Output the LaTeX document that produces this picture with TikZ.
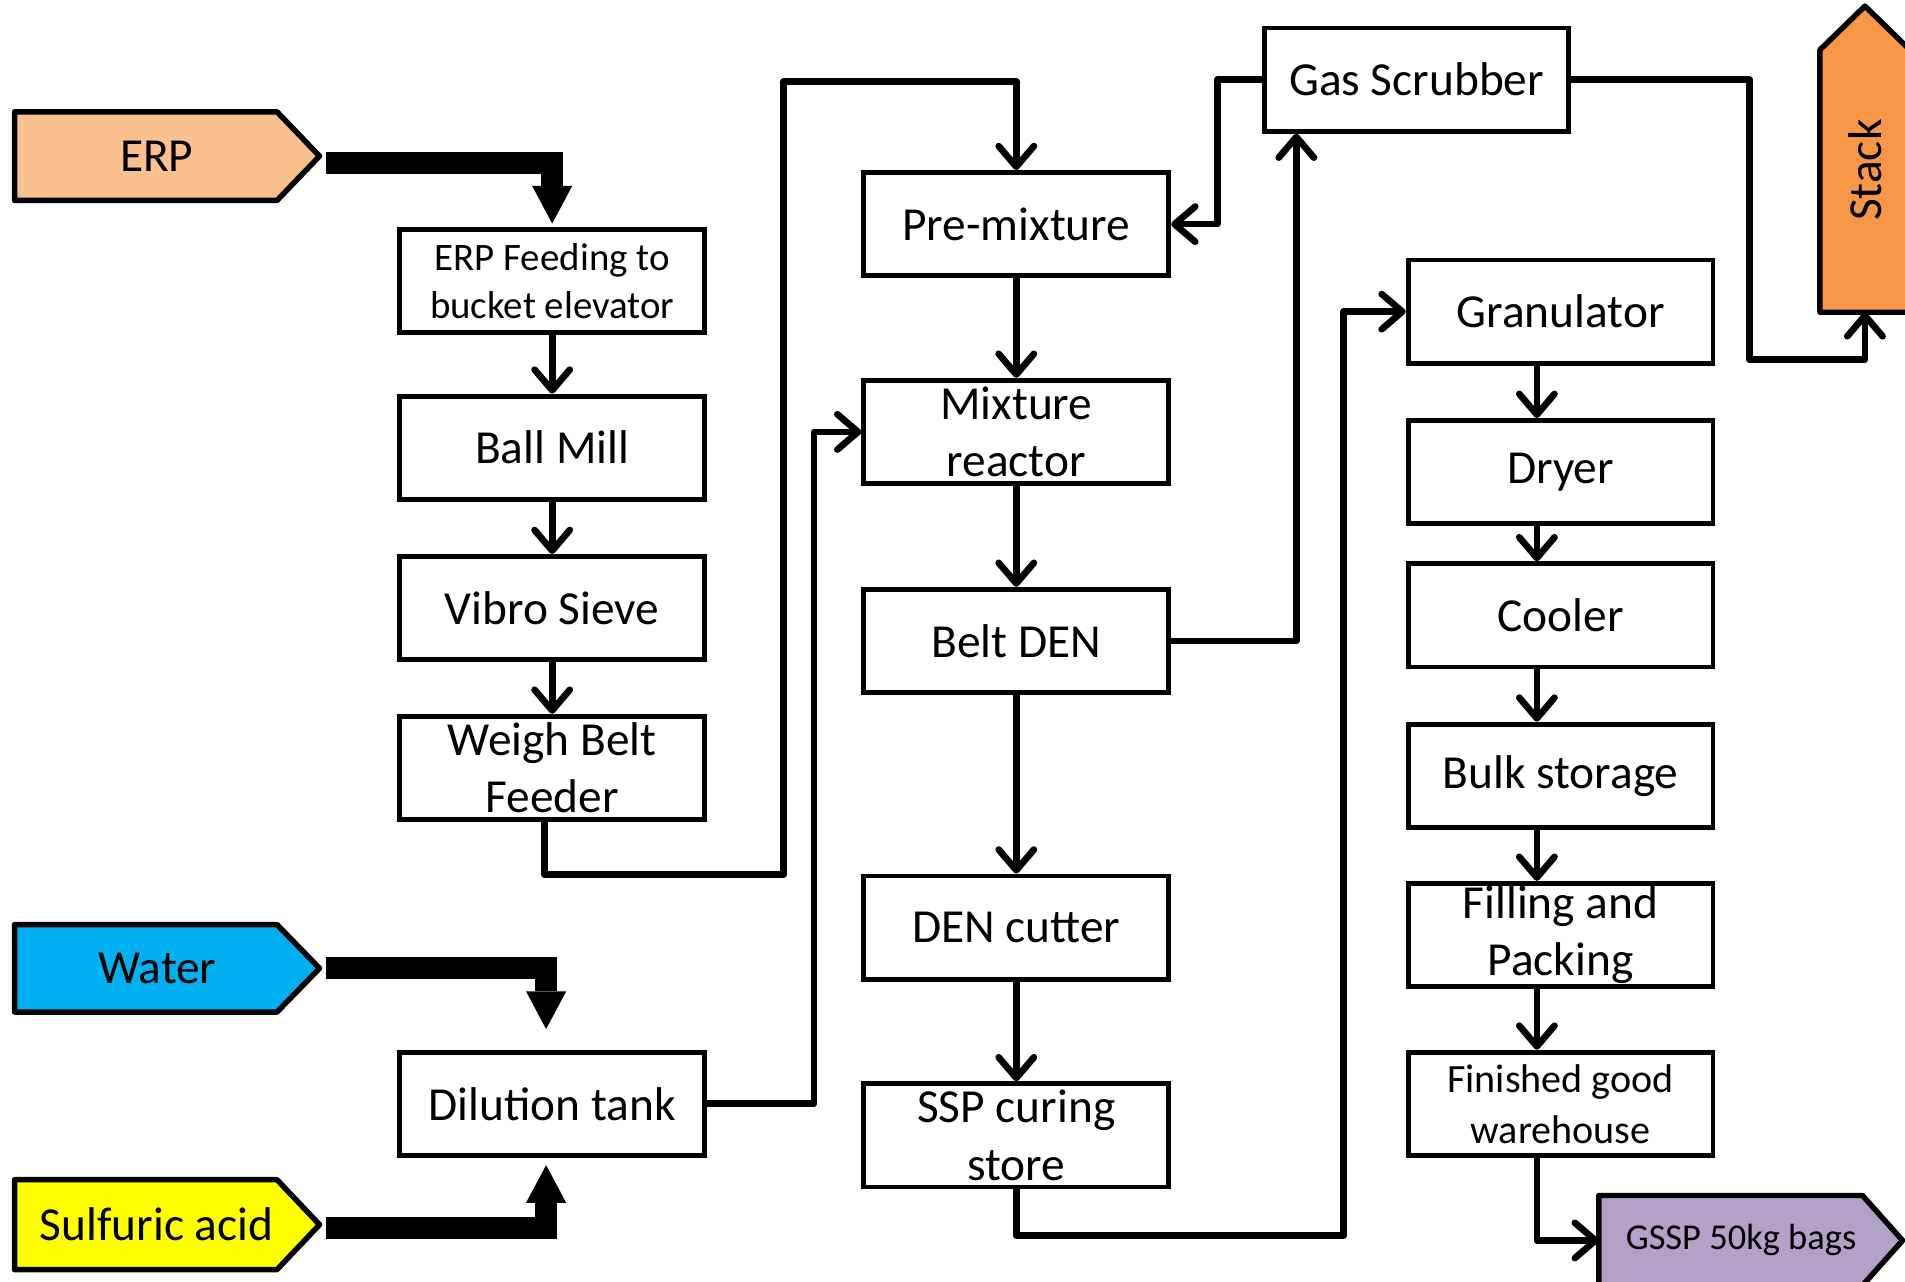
\documentclass[tikz,border=0pt]{standalone}
\usepackage{fontspec}
\setmainfont{Carlito}
\usetikzlibrary{arrows.meta}
\definecolor{erpc}{HTML}{FAC090}
\definecolor{waterc}{HTML}{00B0F0}
\definecolor{sulfc}{HTML}{FFFF00}
\definecolor{stackc}{HTML}{F79646}
\definecolor{gsspc}{HTML}{B3A2C7}
\begin{document}
\begin{tikzpicture}[x=1pt,y=-1pt,
  procbox/.style={draw, line width=4pt, fill=white, minimum width=251pt, minimum height=85pt, inner sep=0pt, align=center, font=\fontsize{39}{47}\selectfont},
  smallbox/.style={procbox, font=\fontsize{32}{39}\selectfont},
  finbox/.style={procbox, font=\fontsize{33}{42}\selectfont},
  conn/.style={line width=5.5pt, line join=round, -{Straight Barb[length=17pt,width=29pt,round]}},
  thickarr/.style={line width=18pt, line join=miter, -{Triangle[length=31pt,width=33pt,line width=0pt]}},
  inshape/.style={draw, line width=4.5pt, line join=round},
  lbl/.style={font=\fontsize{39}{47}\selectfont, inner sep=0pt}
]
\useasboundingbox (0,0) rectangle (1568,1055);
\clip (0,0) rectangle (1568,1055);

% input shapes
\filldraw[inshape, fill=erpc] (12,92) -- (228,92) -- (263,128.5) -- (228,165) -- (12,165) -- cycle;
\filldraw[inshape, fill=waterc] (12,761) -- (228,761) -- (263,797) -- (228,833) -- (12,833) -- cycle;
\filldraw[inshape, fill=sulfc] (12,971) -- (228,971) -- (263,1008) -- (228,1045) -- (12,1045) -- cycle;
\filldraw[inshape, fill=stackc] (1498,257) -- (1498,41) -- (1535,5) -- (1572,41) -- (1572,257) -- cycle;
\filldraw[inshape, fill=gsspc] (1316,984) -- (1533,984) -- (1566,1021) -- (1533,1058) -- (1316,1058) -- cycle;

\coordinate (erptip) at (263,128.5);
\coordinate (watertip) at (263,797);
\coordinate (sulftip) at (263,1008);
\coordinate (stackb) at (1535,257);
\coordinate (gsspw) at (1316,1021);

\node[lbl] (erp) at (129,128.5) {ERP};
\node[lbl] (water) at (129.5,797) {Water};
\node[lbl] (sulf) at (129,1008) {Sulfuric acid};
\node[lbl, rotate=90] (stack) at (1535,140) {Stack};
\node[font=\fontsize{30}{36}\selectfont, inner sep=0pt] (gssp) at (1433,1021) {GSSP 50kg bags};

% left column
\node[smallbox] (feed) at (454.5,231.5) {ERP Feeding to\\bucket elevator};
\node[procbox] (ball) at (454.5,368.5) {Ball Mill};
\node[procbox] (vibro) at (454.5,500.5) {Vibro Sieve};
\node[procbox] (weigh) at (454.5,632) {Weigh Belt\\Feeder};
\node[procbox] (dil) at (454.5,908.5) {Dilution tank};

% middle column
\node[procbox] (pre) at (836.5,184.5) {Pre-mixture};
\node[procbox] (mix) at (836.5,355.5) {Mixture\\reactor};
\node[procbox] (belt) at (836.5,527.5) {Belt DEN};
\node[procbox] (cut) at (836.5,763.5) {DEN cutter};
\node[procbox] (ssp) at (836.5,934.5) {SSP curing\\store};

\node[procbox, minimum width=250pt] (gas) at (1166,65.5) {Gas Scrubber};

% right column
\node[procbox] (gran) at (1284.5,256.5) {Granulator};
\node[procbox] (dry) at (1284.5,388.5) {Dryer};
\node[procbox] (cool) at (1284.5,506.5) {Cooler};
\node[procbox] (bulk) at (1284.5,638.5) {Bulk storage};
\node[procbox] (fill) at (1284.5,769.5) {Filling and\\Packing};
\node[finbox] (fin) at (1284.5,908.5) {Finished good\\warehouse};

% thick input arrows
\draw[thickarr] ([shift={(5pt,-5.5pt)}]erptip) -| ([yshift=3pt]feed.north);
\draw[thickarr] ([xshift=5pt]watertip) -| ([shift={(-5pt,17pt)}]dil.north);
\draw[thickarr] ([shift={(5pt,-3pt)}]sulftip) -| ([shift={(-5pt,-6pt)}]dil.south);

% connectors
\draw[conn] (feed) -- (ball);
\draw[conn] (ball) -- (vibro);
\draw[conn] (vibro) -- (weigh);
\draw[conn] ([xshift=-6.5pt]weigh.south) |- (645,720) -- (645,67) -| (pre.north);
\draw[conn] (dil.east) -| (670,355.5) -- (mix.west);
\draw[conn] (pre) -- (mix);
\draw[conn] (mix) -- (belt);
\draw[conn] (belt) -- (cut);
\draw[conn] (cut) -- (ssp);
\draw[conn] (belt.east) -| ([xshift=-99pt]gas.south);
\draw[conn] (gas.west) -| (1002,184.5) -- (pre.east);
\draw[conn] (gas.east) -| (1440,296) -| (stackb);
\draw[conn] (ssp.south) |- (1106,1017) -- (1106,256.5) -- (gran.west);
\draw[conn] ([xshift=-19.5pt]gran.south) -- ([xshift=-19.5pt]dry.north);
\draw[conn] ([xshift=-19.5pt]dry.south) -- ([xshift=-19.5pt]cool.north);
\draw[conn] ([xshift=-19.5pt]cool.south) -- ([xshift=-19.5pt]bulk.north);
\draw[conn] ([xshift=-19.5pt]bulk.south) -- ([xshift=-19.5pt]fill.north);
\draw[conn] ([xshift=-19.5pt]fill.south) -- ([xshift=-19.5pt]fin.north);
\draw[conn] ([xshift=-19.5pt]fin.south) |- (gsspw);
\end{tikzpicture}
\end{document}
